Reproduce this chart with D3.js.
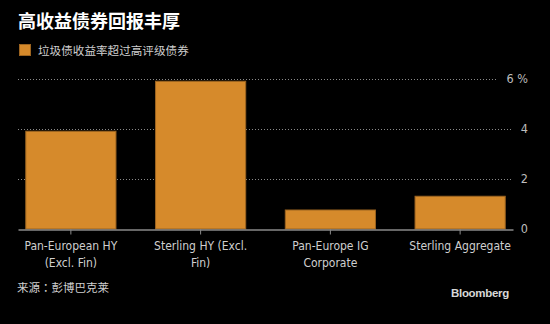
<!DOCTYPE html>
<html>
<head>
<meta charset="utf-8">
<script src="https://cdn.jsdelivr.net/npm/d3@7"></script>
<style>
  html, body { margin: 0; padding: 0; background: #000; }
  svg { display: block; }
</style>
</head>
<body>
<svg id="chart" width="550" height="324"></svg>
<script>
// Chart data
const categories = [
  ["Pan-European HY", "(Excl. Fin)"],
  ["Sterling HY (Excl.", "Fin)"],
  ["Pan-Europe IG", "Corporate"],
  ["Sterling Aggregate"]
];
const yieldValues = [3.91, 5.91, 0.76, 1.31];
const yTicks = [0, 2, 4, 6];
const yTickLabels = ["0", "2", "4", "6 %"];
const titleText = "高收益债券回报丰厚";
const legendText = "垃圾债收益率超过高评级债券";
const sourceText = "来源：彭博巴克莱";

const W = 550, H = 324;
const margin = { left: 18, right: 37, top: 79, bottom: 95 };
const font = "'Noto Sans CJK SC', 'Noto Sans', sans-serif";
const latinFont = "'DejaVu Sans Condensed', 'DejaVu Sans', sans-serif";
const barColor = "#d68a2b";
const barStroke = "#9c6420";

const svg = d3.select("#chart");
svg.append("rect").attr("width", W).attr("height", H).attr("fill", "#000");

const x = d3.scaleBand()
  .domain(d3.range(categories.length))
  .range([margin.left, W - margin.right])
  .paddingInner(0.305)
  .paddingOuter(0.06);

const y = d3.scaleLinear()
  .domain([0, 6])
  .range([H - margin.bottom, margin.top]);

// Title and legend
svg.append("text")
  .attr("x", 18).attr("y", 28)
  .attr("fill", "#fff")
  .attr("font-family", font)
  .attr("font-size", 18)
  .attr("font-weight", "bold")
  .text(titleText);

svg.append("rect")
  .attr("x", 19.5).attr("y", 44.5).attr("width", 11).attr("height", 11)
  .attr("fill", barColor).attr("stroke", barStroke).attr("stroke-width", 1);
svg.append("text")
  .attr("x", 38).attr("y", 55)
  .attr("fill", "#cfcfcf")
  .attr("font-family", font)
  .attr("font-size", 11.6)
  .text(legendText);

// Y axis labels on the right, gridlines stopping short of them
const yAxisG = svg.append("g");
const labelRight = 528;
yTicks.forEach((t, i) => {
  const label = yAxisG.append("text")
    .attr("x", labelRight)
    .attr("y", y(t))
    .attr("dy", "0.35em")
    .attr("text-anchor", "end")
    .attr("fill", "#bdbdbd")
    .attr("font-family", latinFont)
    .attr("font-size", 12.5)
    .text(yTickLabels[i]);
  if (t !== 0) {
    const lw = label.node().getComputedTextLength();
    const end = Math.min(W - margin.right - 1, labelRight - lw - 9);
    yAxisG.insert("line", "text")
      .attr("x1", margin.left).attr("x2", end)
      .attr("y1", Math.round(y(t)) + 0.5).attr("y2", Math.round(y(t)) + 0.5)
      .attr("stroke", "#8a8a8a")
      .attr("stroke-width", 1)
      .attr("stroke-dasharray", "1,2");
  }
});

// Bars
svg.append("g").selectAll("rect")
  .data(yieldValues)
  .join("rect")
  .attr("x", (d, i) => x(i))
  .attr("y", d => y(d))
  .attr("width", x.bandwidth())
  .attr("height", d => y(0) - y(d))
  .attr("fill", barColor)
  .attr("stroke", barStroke)
  .attr("stroke-width", 1);

// X axis baseline and ticks
const xAxis = d3.axisBottom(x).tickSize(5).tickFormat("").tickSizeOuter(0);
const xg = svg.append("g")
  .attr("transform", `translate(0,${Math.round(y(0)) + 0.5})`)
  .call(xAxis);
xg.select(".domain").attr("stroke", "#8a8a8a").attr("stroke-width", 1.5);
xg.selectAll(".tick line").attr("stroke", "#8a8a8a");

// Category labels
const labG = svg.append("g");
categories.forEach((lines, i) => {
  const t = labG.append("text")
    .attr("x", x(i) + x.bandwidth() / 2)
    .attr("y", 250)
    .attr("text-anchor", "middle")
    .attr("fill", "#cfcfcf")
    .attr("font-family", latinFont)
    .attr("font-size", 12)
    .text(null);
  lines.forEach((ln, j) => {
    t.append("tspan")
      .attr("x", x(i) + x.bandwidth() / 2)
      .attr("dy", j === 0 ? 0 : 16.7)
      .text(ln);
  });
});

// Source and brand
svg.append("text")
  .attr("x", 17).attr("y", 292)
  .attr("fill", "#cfcfcf")
  .attr("font-family", "'Noto Sans CJK TC', 'Noto Sans CJK SC', sans-serif")
  .attr("font-size", 11.5)
  .text(sourceText);

svg.append("text")
  .attr("x", 509).attr("y", 297)
  .attr("text-anchor", "end")
  .attr("fill", "#d8d8d8")
  .attr("font-family", "'Liberation Sans', Arial, sans-serif")
  .attr("font-weight", "bold")
  .attr("font-size", 11.5)
  .attr("letter-spacing", "-0.3")
  .text("Bloomberg");
</script>
</body>
</html>
